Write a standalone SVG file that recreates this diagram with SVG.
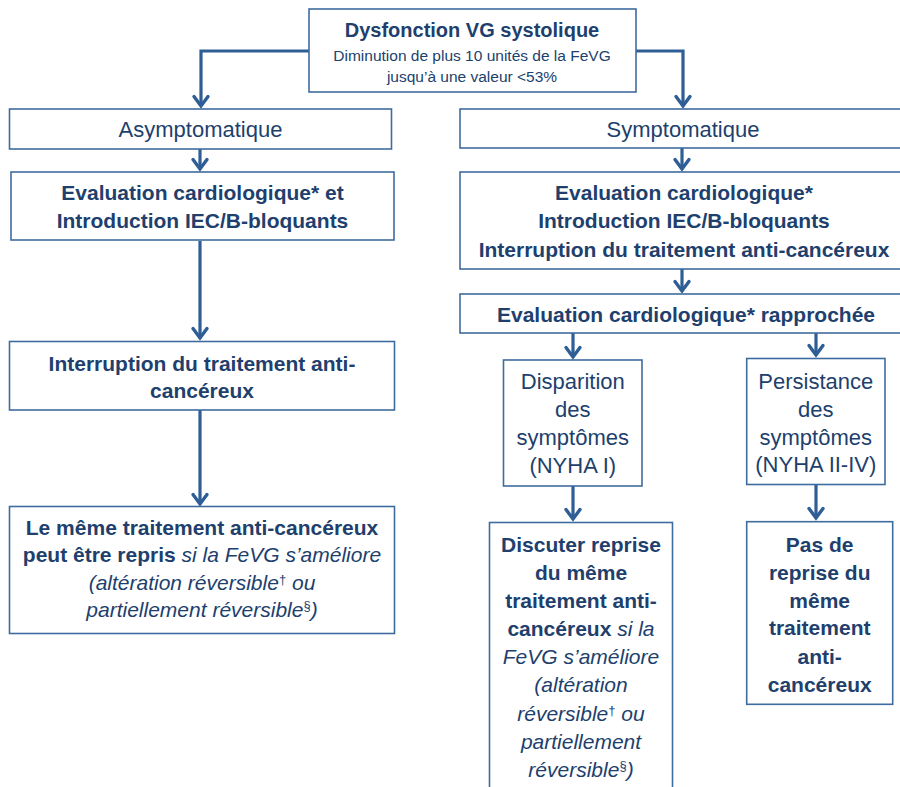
<svg xmlns="http://www.w3.org/2000/svg" width="900" height="787" viewBox="0 0 900 787">
<defs>
<style>
.box{fill:#ffffff;stroke:#3F6C9E;stroke-width:1.6}
text{font-family:"Liberation Sans",Arial,sans-serif;fill:#213F6D;text-anchor:middle}
.t{font-weight:bold;font-size:20px}
.b{font-weight:bold;font-size:21px}
.r{font-size:22px}
.s{font-size:15.5px}
.i{font-style:italic;font-weight:normal}
.sup{font-size:13px;font-style:normal}
.con{fill:none;stroke:#2E5E95;stroke-width:3.2;marker-end:url(#ah)}
</style>
<marker id="ah" markerUnits="userSpaceOnUse" markerWidth="24" markerHeight="24" viewBox="-14 -12 16 24" refX="0" refY="0" orient="auto" overflow="visible">
<path d="M-9.5,-7 L0,0 L-9.5,7" fill="none" stroke="#2E5E95" stroke-width="3.4" stroke-linecap="round"/>
</marker>
</defs>
<rect width="900" height="787" fill="#ffffff"/>

<g id="connectors">
<path class="con" d="M309,51 H201 V106"/>
<path class="con" d="M636,51 H683 V106"/>
<path class="con" d="M200,149 V169"/>
<path class="con" d="M200,241 V338"/>
<path class="con" d="M200,410 V504"/>
<path class="con" d="M682,148 V169"/>
<path class="con" d="M682,269 V291"/>
<path class="con" d="M573,333 V357"/>
<path class="con" d="M816,333 V355"/>
<path class="con" d="M573,486 V519"/>
<path class="con" d="M816,484 V518"/>
</g>

<g id="n-top">
<rect class="box" x="309" y="9" width="327" height="83"/>
<text class="t" x="472" y="37">Dysfonction VG systolique</text>
<text class="s" x="472" y="61">Diminution de plus 10 unités de la FeVG</text>
<text class="s" x="472" y="82">jusqu’à une valeur &lt;53%</text>
</g>

<g id="n-asym">
<rect class="box" x="9.5" y="109" width="382" height="40"/>
<text class="r" x="200.5" y="137">Asymptomatique</text>
</g>

<g id="n-evalL">
<rect class="box" x="11" y="172" width="383" height="68"/>
<text class="b" x="202.5" y="200">Evaluation cardiologique* et</text>
<text class="b" x="202.5" y="228">Introduction IEC/B-bloquants</text>
</g>

<g id="n-interL">
<rect class="box" x="9.5" y="341.5" width="385" height="68.5"/>
<text class="b" x="202" y="371">Interruption du traitement anti-</text>
<text class="b" x="202" y="398">cancéreux</text>
</g>

<g id="n-lememe">
<rect class="box" x="9.5" y="506.5" width="385" height="127"/>
<text class="b" x="202" y="535">Le même traitement anti-cancéreux</text>
<text class="b" x="202" y="562">peut être repris <tspan class="i">si la FeVG s’améliore</tspan></text>
<text class="b i" x="202" y="590">(altération réversible<tspan class="sup" dy="-6">†</tspan><tspan dy="6"> ou</tspan></text>
<text class="b i" x="202" y="617">partiellement réversible<tspan class="sup" dy="-7">§</tspan><tspan dy="7">)</tspan></text>
</g>

<g id="n-symp">
<rect class="box" x="460" y="109" width="448" height="39"/>
<text class="r" x="683" y="137">Symptomatique</text>
</g>

<g id="n-evalR">
<rect class="box" x="460" y="172" width="448" height="97"/>
<text class="b" x="684" y="200">Evaluation cardiologique*</text>
<text class="b" x="684" y="228">Introduction IEC/B-bloquants</text>
<text class="b" x="684" y="256.5">Interruption du traitement anti-cancéreux</text>
</g>

<g id="n-rapp">
<rect class="box" x="460" y="294" width="448" height="39"/>
<text class="b" x="686" y="321.5">Evaluation cardiologique* rapprochée</text>
</g>

<g id="n-disp">
<rect class="box" x="503.5" y="360" width="138.5" height="126"/>
<text class="r" x="572.8" y="389">Disparition</text>
<text class="r" x="572.8" y="417">des</text>
<text class="r" x="572.8" y="445">symptômes</text>
<text class="r" x="572.8" y="473">(NYHA I)</text>
</g>

<g id="n-pers">
<rect class="box" x="746.7" y="358.5" width="138.3" height="126"/>
<text class="r" x="815.8" y="389">Persistance</text>
<text class="r" x="815.8" y="417">des</text>
<text class="r" x="815.8" y="445">symptômes</text>
<text class="r" x="815.8" y="472">(NYHA II-IV)</text>
</g>

<g id="n-disc">
<rect class="box" x="489.5" y="522.5" width="183" height="290"/>
<text class="b" x="581" y="551.5">Discuter reprise</text>
<text class="b" x="581" y="579.5">du même</text>
<text class="b" x="581" y="607.5">traitement anti-</text>
<text class="b" x="581" y="635.5">cancéreux <tspan class="i">si la</tspan></text>
<text class="b i" x="581" y="664">FeVG s’améliore</text>
<text class="b i" x="581" y="692">(altération</text>
<text class="b i" x="581" y="720.5">réversible<tspan class="sup" dy="-6">†</tspan><tspan dy="6"> ou</tspan></text>
<text class="b i" x="581" y="748.5">partiellement</text>
<text class="b i" x="581" y="777">réversible<tspan class="sup" dy="-7">§</tspan><tspan dy="7">)</tspan></text>
</g>

<g id="n-pas">
<rect class="box" x="746.7" y="521.7" width="146" height="182.6"/>
<text class="b" x="819.7" y="551.5">Pas de</text>
<text class="b" x="819.7" y="579.5">reprise du</text>
<text class="b" x="819.7" y="607.5">même</text>
<text class="b" x="819.7" y="635">traitement</text>
<text class="b" x="819.7" y="663.5">anti-</text>
<text class="b" x="819.7" y="691.5">cancéreux</text>
</g>
</svg>
